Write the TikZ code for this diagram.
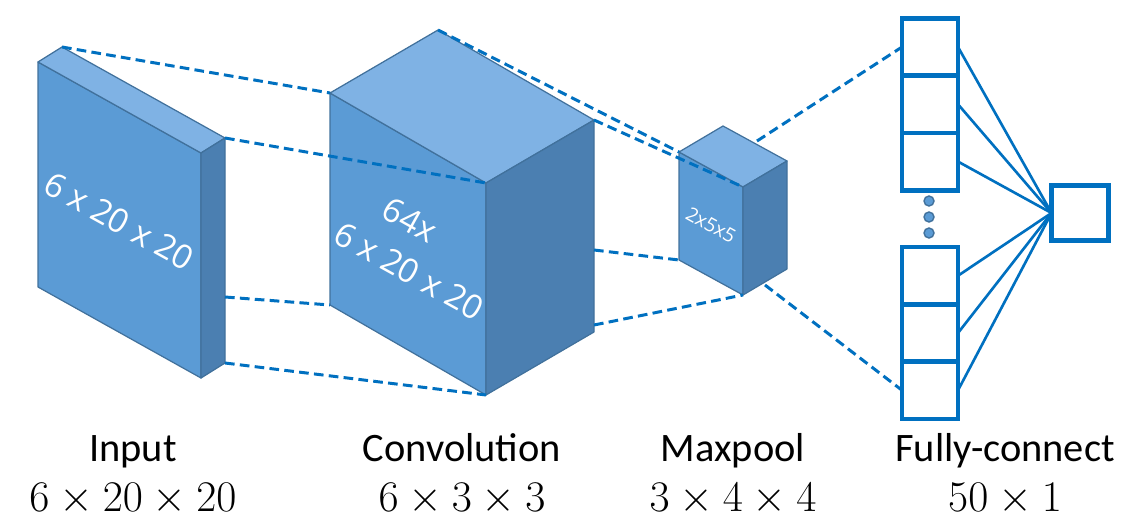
\documentclass[tikz,border=0pt]{standalone}
\usepackage{fontspec}
\setmainfont{Carlito}
\newfontfamily\boxfont{Open Sans}
\usetikzlibrary{positioning}

\definecolor{faceblue}{HTML}{5B9BD5}
\definecolor{topblue}{HTML}{7FB2E4}
\definecolor{sideblue}{HTML}{4B7FB1}
\definecolor{edgeblue}{HTML}{41719C}
\definecolor{lineblue}{HTML}{0070C0}

\begin{document}
\begin{tikzpicture}[x=0.02cm, y=-0.02cm,
    front/.style={fill=faceblue, draw=edgeblue, line width=0.7pt, line join=round},
    topface/.style={front, fill=topblue},
    sideface/.style={front, fill=sideblue},
    link/.style={lineblue, line width=1.7pt, dash pattern=on 5.5pt off 3pt},
    cell/.style={draw=lineblue, line width=2.7pt, minimum width=1.12cm, minimum height=1.146cm, inner sep=0pt, outer sep=0pt},
    wire/.style={lineblue, line width=1.5pt},
    boxtext/.style={text=white, font=\boxfont\fontsize{19}{21}\selectfont, rotate=-29, inner sep=1pt},
    layername/.style={font=\fontsize{23}{27}\selectfont, anchor=base},
    layershape/.style={font=\fontsize{25}{30}\selectfont, anchor=base}]

    \useasboundingbox (0,0) rectangle (1125,517);

    % Layer blocks: name / front top left / width / slant / height / depth offset
    \foreach \n/\x/\y/\w/\s/\h/\dx/\dy in {in/38/62/163/91/225/24/-15,
                                           cv/330/93/156/90/212/108/-63,
                                           mp/679/152/64/35/108/44/-26} {
        \coordinate (\n-a) at (\x,\y);
        \coordinate (\n-b) at (\x+\w,\y+\s);
        \coordinate (\n-c) at (\x+\w,\y+\s+\h);
        \coordinate (\n-d) at (\x,\y+\h);
        \coordinate (\n-e) at (\x+\dx,\y+\dy);
        \coordinate (\n-f) at (\x+\w+\dx,\y+\s+\dy);
        \coordinate (\n-g) at (\x+\w+\dx,\y+\s+\h+\dy);
        \draw[front] (\n-a) -- (\n-b) -- (\n-c) -- (\n-d) -- cycle;
        \draw[topface] (\n-a) -- (\n-e) -- (\n-f) -- (\n-b) -- cycle;
        \draw[sideface] (\n-b) -- (\n-f) -- (\n-g) -- (\n-c) -- cycle;
    }

    % Sizes written on the blocks
    \node[boxtext] (intext) at (119,221) {6 x 20 x 20};
    \node[boxtext] (cvtext1) at (410,220) {64x};
    \node[boxtext] (cvtext2) at (409,271) {6 x 20 x 20};
    \node[boxtext, font=\boxfont\fontsize{11}{13}\selectfont] (mptext) at (711,225) {2x5x5};

    % Free ends of the projection lines
    \coordinate (in-m) at (225,297);
    \coordinate (cv-m) at (594,250);
    \coordinate (cv-n) at (594,325);
    \coordinate (mp-m) at (757,141);
    \coordinate (mp-n) at (765,285);

    % Input -> convolution
    \draw[link] (in-e) -- (cv-a);
    \draw[link] (in-f) -- (cv-b);
    \draw[link] (in-m) -- (cv-d);
    \draw[link] (in-g) -- (cv-c);

    % Convolution -> maxpool
    \draw[link] (cv-e) -- (mp-a);
    \draw[link] (cv-f) -- (mp-b);
    \draw[link] (cv-m) -- (mp-d);
    \draw[link] (cv-n) -- (mp-c);

    % Fully connected column
    \node[cell] (f1) at (930,47) {};
    \node[cell, below=0pt of f1] (f2) {};
    \node[cell, below=0pt of f2] (f3) {};
    \node[cell] (f4) at (930,275.7) {};
    \node[cell, below=0pt of f4] (f5) {};
    \node[cell, below=0pt of f5] (f6) {};
    \node[cell, minimum width=1.14cm, minimum height=1.1cm] (out) at (1080,213) {};

    \foreach \y in {201,217,233}
        \draw[fill=faceblue, draw=edgeblue, line width=0.8pt] (929,\y) circle (0.1cm);

    \foreach \i in {1,...,6}
        \draw[wire] (f\i.east) -- (out.west);

    % Maxpool -> fully connected
    \draw[link] (mp-m) -- (f1.west);
    \draw[link] (mp-n) -- (f6.west);

    % Layer names
    \node[layername] (inname) at (133,461) {Input};
    \node[layername] (cvname) at (462,461) {Convolution};
    \node[layername] (mpname) at (733,461) {Maxpool};
    \node[layername] (fcname) at (1005,461) {Fully-connect};
    \node[layershape] (inshape) at (133,511) {$6\times20\times20$};
    \node[layershape] (cvshape) at (462,511) {$6\times3\times3$};
    \node[layershape] (mpshape) at (733,511) {$3\times4\times4$};
    \node[layershape] (fcshape) at (1005,511) {$50\times1$};

\end{tikzpicture}
\end{document}
